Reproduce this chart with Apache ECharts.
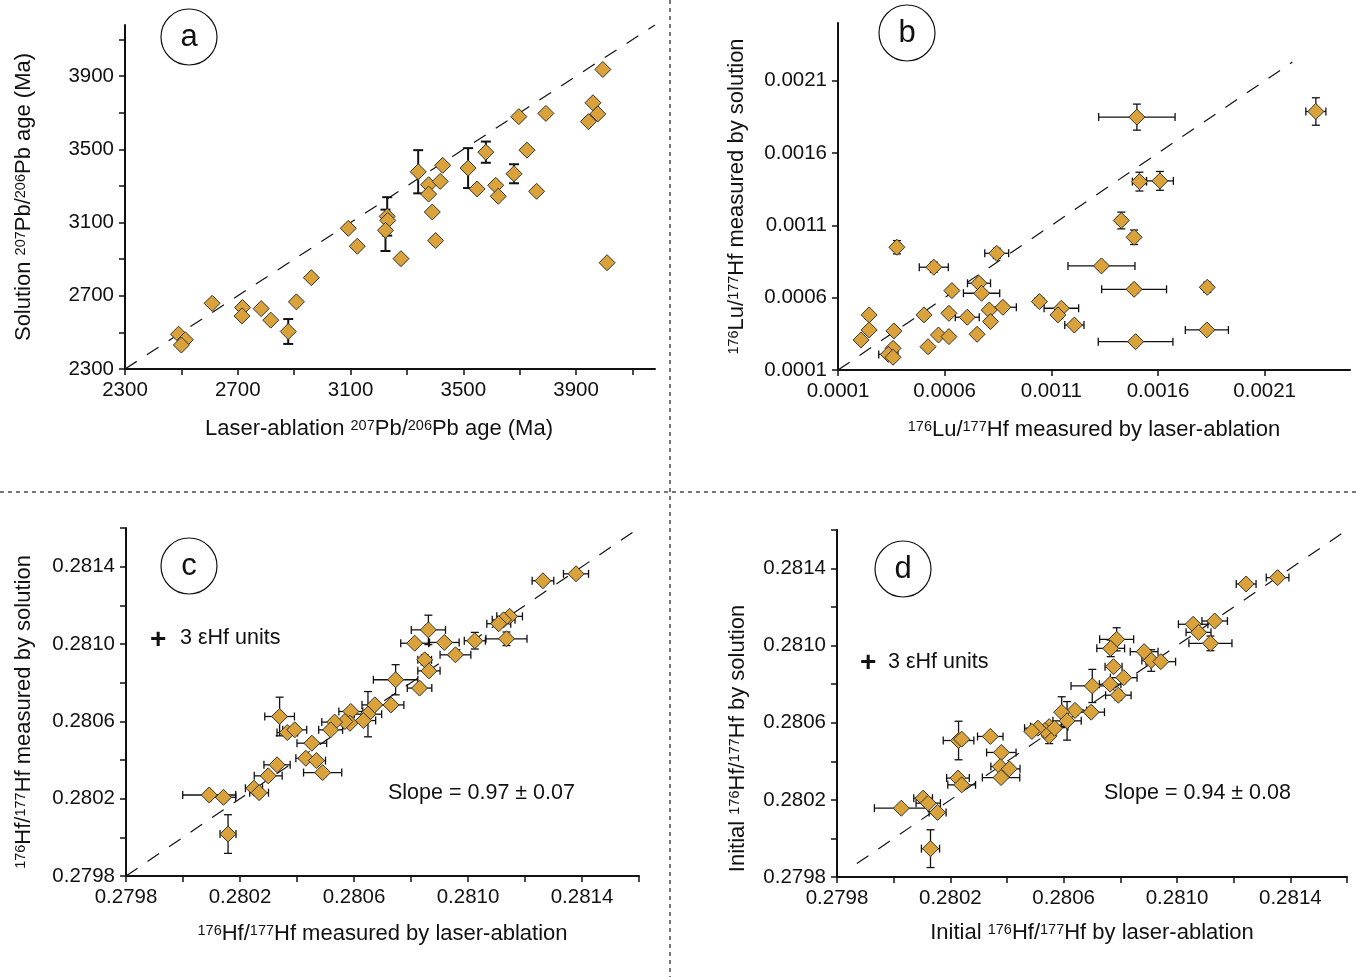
<!DOCTYPE html>
<html>
<head>
<meta charset="utf-8">
<title>Laser-ablation vs solution</title>
<script src="https://cdn.jsdelivr.net/npm/echarts@6/dist/echarts.min.js"></script>
<style>
html, body { margin: 0; padding: 0; background: #fff; }
#main { width: 1359px; height: 977px; }
</style>
</head>
<body>
<div id="main"></div>
<script>
// each row: [laser-ablation, solution, x error, y error]
var ageA = [
  [2490,2490,0,0],[2514,2460,0,0],[2500,2431,0,0],[2609,2659,0,0],[2717,2636,0,0],
  [2715,2590,0,0],[2783,2630,0,0],[2817,2567,0,0],[2879,2505,0,68],[2908,2667,0,0],
  [2961,2799,0,0],[3092,3069,0,0],[3124,2971,0,0],[3230,3134,0,105],[3232,3112,0,0],
  [3224,3058,0,113],[3279,2903,0,0],[3340,3378,0,118],[3377,3307,0,0],[3377,3256,0,0],
  [3418,3325,0,0],[3427,3413,0,0],[3390,3158,0,0],[3402,3002,0,0],[3517,3398,0,109],
  [3549,3284,0,0],[3580,3485,0,58],[3615,3304,0,0],[3624,3244,0,0],[3680,3367,0,52],
  [3697,3679,0,0],[3726,3496,0,0],[3760,3271,0,0],[3793,3697,0,0],[3944,3652,0,0],
  [3960,3755,0,0],[3977,3694,0,0],[3995,3937,0,0],[4010,2881,0,0]
];
var luHfB = [
  [0.001501,0.001849,0.000179,0.00009],[0.00234,0.001888,0.000047,0.000095],
  [0.001513,0.001403,0.000033,0.000065],[0.001609,0.001408,0.000063,0.000065],
  [0.001428,0.001134,0.00002,0.000058],[0.001488,0.001018,0.000018,0.00005],
  [0.000376,0.000949,0.000018,0.000046],[0.000844,0.000907,0.000056,0.000035],
  [0.000549,0.000811,0.000068,0.000035],[0.001335,0.00082,0.000157,0.000023],
  [0.001488,0.000658,0.000152,0.000028],[0.001831,0.000672,0.00001,0.000035],
  [0.000761,0.0007,0.000054,0.000023],[0.000773,0.000631,0.000085,0.000023],
  [0.000634,0.000649,0,0.000023],[0.001044,0.000573,0.000022,0.000023],
  [0.001147,0.000527,0.000081,0.000023],[0.001131,0.000481,0,0],
  [0.001208,0.000411,0.000045,0.000023],[0.001829,0.000377,0.000101,0],
  [0.001495,0.000296,0.000175,0],[0.000873,0.000534,0.000063,0],
  [0.000809,0.000515,0,0],[0.000815,0.000435,0,0],[0.000706,0.000465,0.000056,0],
  [0.00062,0.000492,0,0],[0.000503,0.000481,0,0],[0.000246,0.000481,0,0],
  [0.000246,0.000377,0,0],[0.000362,0.00037,0,0],[0.000208,0.000308,0,0],
  [0.000571,0.000342,0,0],[0.00062,0.000331,0,0],[0.000752,0.000347,0,0],
  [0.000522,0.000261,0,0],[0.000358,0.00025,0,0],[0.000336,0.000208,0.000045,0],
  [0.000358,0.000188,0,0]
];
var hfC = [
  [0.281379,0.281363,0.000044,0],[0.281263,0.281327,0.000038,0],[0.281146,0.281143,0.000045,0],
  [0.281125,0.281125,0.00004,0],[0.281108,0.281105,0.000042,0],[0.281135,0.281027,0.000072,0.000035],
  [0.280861,0.281073,0.00006,0.000076],[0.280813,0.281004,0.000049,0],[0.280917,0.281008,0.000052,0],
  [0.281024,0.281017,0.000037,0.000043],[0.280956,0.280944,0.000054,0],[0.280848,0.280918,0.000024,0.000026],
  [0.280863,0.280861,0.000039,0],[0.280746,0.280815,0.000078,0.000078],[0.28083,0.280772,0.000043,0],
  [0.28073,0.280685,0.000045,0],[0.280673,0.280685,0.000045,0],[0.280649,0.280637,0.000048,0.000117],
  [0.280589,0.280651,0.000042,0],[0.280633,0.280604,0.000043,0],[0.280586,0.28059,0.000048,0],
  [0.280568,0.280599,0,0],[0.280532,0.280596,0.000045,0],[0.280518,0.280556,0.000042,0],
  [0.280339,0.280625,0.000052,0.0001],[0.280366,0.280542,0.000036,0],[0.280392,0.280556,0.000042,0],
  [0.280452,0.280487,0.000052,0],[0.280431,0.280409,0.000035,0],[0.280468,0.280397,0.000032,0],
  [0.28049,0.280335,0.000067,0],[0.28033,0.280375,0.000046,0],[0.280299,0.280318,0.000049,0],
  [0.280249,0.280254,0.00003,0],[0.280267,0.280231,0.000033,0],[0.280092,0.280219,0.000093,0],
  [0.280142,0.280207,0.000043,0],[0.280158,0.280017,0.000028,0.0001]
];
var hfD = [
  [0.281355,0.281353,0.00004,0],[0.281244,0.28132,0.000035,0],[0.281133,0.281128,0.000045,0],
  [0.281057,0.281111,0.000052,0],[0.281076,0.281069,0.000044,0],[0.281118,0.281012,0.000076,0.000038],
  [0.280787,0.281033,0.00006,0.00006],[0.280766,0.280986,0.000049,0.000043],[0.280884,0.280969,0.000049,0],
  [0.280909,0.280923,0.000033,0.000056],[0.280943,0.280917,0.000052,0],[0.280776,0.280891,0.00003,0],
  [0.280812,0.280834,0.000047,0],[0.280701,0.280791,0.000075,0.000086],[0.280764,0.2808,0.000038,0],
  [0.280793,0.280743,0.000045,0.000025],[0.28064,0.280664,0.000041,0],[0.280697,0.280655,0.000047,0],
  [0.280593,0.280655,0,0.00008],[0.280612,0.28061,0.00005,0.0001],[0.280549,0.28058,0.000066,0],
  [0.280549,0.280532,0,0.00004],[0.280534,0.28056,0,0],[0.280509,0.280572,0.000047,0],
  [0.280488,0.280555,0,0],[0.280568,0.280572,0,0],[0.280229,0.280508,0.000054,0.0001],
  [0.28024,0.280515,0,0],[0.280341,0.280529,0.000045,0],[0.28038,0.280446,0.000052,0],
  [0.280376,0.280373,0.000033,0],[0.280408,0.280361,0.000038,0],[0.280379,0.280316,0.000066,0],
  [0.280227,0.280313,0.00004,0],[0.28024,0.280278,0.000049,0],[0.280104,0.280209,0.000033,0],
  [0.280122,0.280183,0.000043,0],[0.280155,0.280135,0.00003,0],[0.280027,0.280157,0.000095,0],
  [0.28013,0.279947,0.000032,0.000098]
];

// 1:1 reference lines
var lineA = [[2300,2300],[4180,4180]];
var lineB = [[0.0001,0.0001],[0.00223,0.00223]];
var lineC = [[0.2798,0.2798],[0.2816,0.2816]];
var lineD = [[0.27987,0.27987],[0.2816,0.2816]];

// ticks and labels
var ticksA = [2300,2500,2700,2900,3100,3300,3500,3700,3900,4100];
var labelsA = [2300,2700,3100,3500,3900];
var labelsB = [0.0001,0.0006,0.0011,0.0016,0.0021];
var ticksHf = [0.2798,0.28,0.2802,0.2804,0.2806,0.2808,0.281,0.2812,0.2814,0.2816];
var labelsHf = [0.2798,0.2802,0.2806,0.281,0.2814];

var FONT = '"Liberation Sans", Arial, sans-serif';
var GOLD = '#DAA23A';
var rich = { s: { fontSize: 14.5, verticalAlign: 'top', fontFamily: FONT, color: '#111' } };

function fmt(d) {
  return function (v) { return d ? v.toFixed(d) : String(v); };
}

function axis(gi, min, max, ticks, labels, dec, name, gap, pad) {
  return {
    type: 'value', gridIndex: gi, min: min, max: max,
    name: name, nameLocation: 'middle', nameGap: gap,
    nameTextStyle: { fontSize: 22, color: '#111', fontFamily: FONT, rich: rich, padding: pad || 0 },
    axisLine: { show: true, onZero: false, lineStyle: { color: '#111', width: 2 } },
    axisTick: { show: true, length: 6, customValues: ticks, lineStyle: { color: '#111', width: 1.5 } },
    axisLabel: { customValues: labels, formatter: fmt(dec), fontSize: 20.5, color: '#111', fontFamily: FONT, margin: 11 },
    splitLine: { show: false }
  };
}

function errBars(capHalf, width) {
  return function (params, api) {
    var x = api.value(0), y = api.value(1), xe = api.value(2), ye = api.value(3);
    var st = { stroke: '#111', lineWidth: width, fill: null };
    var kids = [];
    function seg(a, b) { kids.push({ type: 'line', shape: { x1: a[0], y1: a[1], x2: b[0], y2: b[1] }, style: st }); }
    if (xe > 0) {
      var l = api.coord([x - xe, y]), r = api.coord([x + xe, y]);
      seg(l, r);
      seg([l[0], l[1] - capHalf], [l[0], l[1] + capHalf]);
      seg([r[0], r[1] - capHalf], [r[0], r[1] + capHalf]);
    }
    if (ye > 0) {
      var t = api.coord([x, y + ye]), b = api.coord([x, y - ye]);
      seg(t, b);
      seg([t[0] - capHalf, t[1]], [t[0] + capHalf, t[1]]);
      seg([b[0] - capHalf, b[1]], [b[0] + capHalf, b[1]]);
    }
    return { type: 'group', children: kids };
  };
}

function panelSeries(i, pts, line, capHalf, width) {
  return [
    { type: 'line', xAxisIndex: i, yAxisIndex: i, data: line, symbol: 'none', z: 1,
      lineStyle: { color: '#111', width: 1.2, type: [14, 12] } },
    { type: 'custom', xAxisIndex: i, yAxisIndex: i, data: pts, z: 2, clip: false,
      encode: { x: 0, y: 1 }, renderItem: errBars(capHalf, width) },
    { type: 'scatter', xAxisIndex: i, yAxisIndex: i, data: pts, z: 3,
      symbol: 'diamond', symbolSize: 16,
      itemStyle: { color: GOLD, borderColor: '#333', borderWidth: 1, opacity: 1 } }
  ];
}

function circleLabel(cx, cy, letter) {
  return [
    { type: 'circle', shape: { cx: cx, cy: cy, r: 28 }, style: { fill: '#fff', stroke: '#111', lineWidth: 1.2 }, z: 10 },
    { type: 'text', x: cx, y: cy, z: 11, style: { text: letter, fontSize: 31, fontFamily: FONT, fill: '#111', align: 'center', verticalAlign: 'middle' } }
  ];
}

function txt(x, y, s, size, weight) {
  return { type: 'text', x: x, y: y, z: 11, style: { text: s, fontSize: size, fontWeight: weight || 'normal', fontFamily: FONT, fill: '#111', verticalAlign: 'middle' } };
}

var chart = echarts.init(document.getElementById('main'));
chart.setOption({
  animation: false,
  backgroundColor: '#fff',
  grid: [
    { left: 125, top: 25, width: 530, height: 344 },
    { left: 838, top: 23, width: 512, height: 347 },
    { left: 126, top: 528, width: 513, height: 348 },
    { left: 837, top: 530, width: 510, height: 347 }
  ],
  xAxis: [
    axis(0, 2300, 4180, ticksA, labelsA, 0, 'Laser-ablation {s|207}Pb/{s|206}Pb age (Ma)', 49, [0, 22, 0, 0]),
    axis(1, 0.0001, 0.0025, labelsB, labelsB, 4, '{s|176}Lu/{s|177}Hf measured by laser-ablation', 49),
    axis(2, 0.2798, 0.2816, ticksHf, labelsHf, 4, '{s|176}Hf/{s|177}Hf measured by laser-ablation', 47),
    axis(3, 0.2798, 0.2816, ticksHf, labelsHf, 4, 'Initial {s|176}Hf/{s|177}Hf by laser-ablation', 45)
  ],
  yAxis: [
    axis(0, 2300, 4180, ticksA, labelsA, 0, 'Solution {s|207}Pb/{s|206}Pb age (Ma)', 90),
    axis(1, 0.0001, 0.0025, labelsB, labelsB, 4, '{s|176}Lu/{s|177}Hf measured by solution', 90),
    axis(2, 0.2798, 0.2816, ticksHf, labelsHf, 4, '{s|176}Hf/{s|177}Hf measured by solution', 91, [0, 20, 0, 0]),
    axis(3, 0.2798, 0.2816, ticksHf, labelsHf, 4, 'Initial {s|176}Hf/{s|177}Hf by solution', 88, [0, 70, 0, 0])
  ],
  series: [].concat(
    panelSeries(0, ageA, lineA, 5, 2),
    panelSeries(1, luHfB, lineB, 4, 1.3),
    panelSeries(2, hfC, lineC, 4, 1.3),
    panelSeries(3, hfD, lineD, 4, 1.3)
  ),
  graphic: [].concat(
    [
      { type: 'line', shape: { x1: 670, y1: 0, x2: 670, y2: 977 }, style: { stroke: '#777', lineWidth: 2, lineDash: [4, 4] } },
      { type: 'line', shape: { x1: 0, y1: 492, x2: 1359, y2: 492 }, style: { stroke: '#777', lineWidth: 2, lineDash: [4, 4] } }
    ],
    circleLabel(189, 37, 'a'),
    circleLabel(907, 33, 'b'),
    circleLabel(189, 566, 'c'),
    circleLabel(903, 569, 'd'),
    [
      txt(150, 640, '+', 28, 'bold'),
      txt(180, 638, '3 \u03b5Hf units', 21.5),
      txt(860, 663, '+', 28, 'bold'),
      txt(888, 662, '3 \u03b5Hf units', 21.5),
      txt(388, 793, 'Slope = 0.97 \u00b1 0.07', 21.5),
      txt(1104, 793, 'Slope = 0.94 \u00b1 0.08', 21.5)
    ]
  )
});
</script>
</body>
</html>
